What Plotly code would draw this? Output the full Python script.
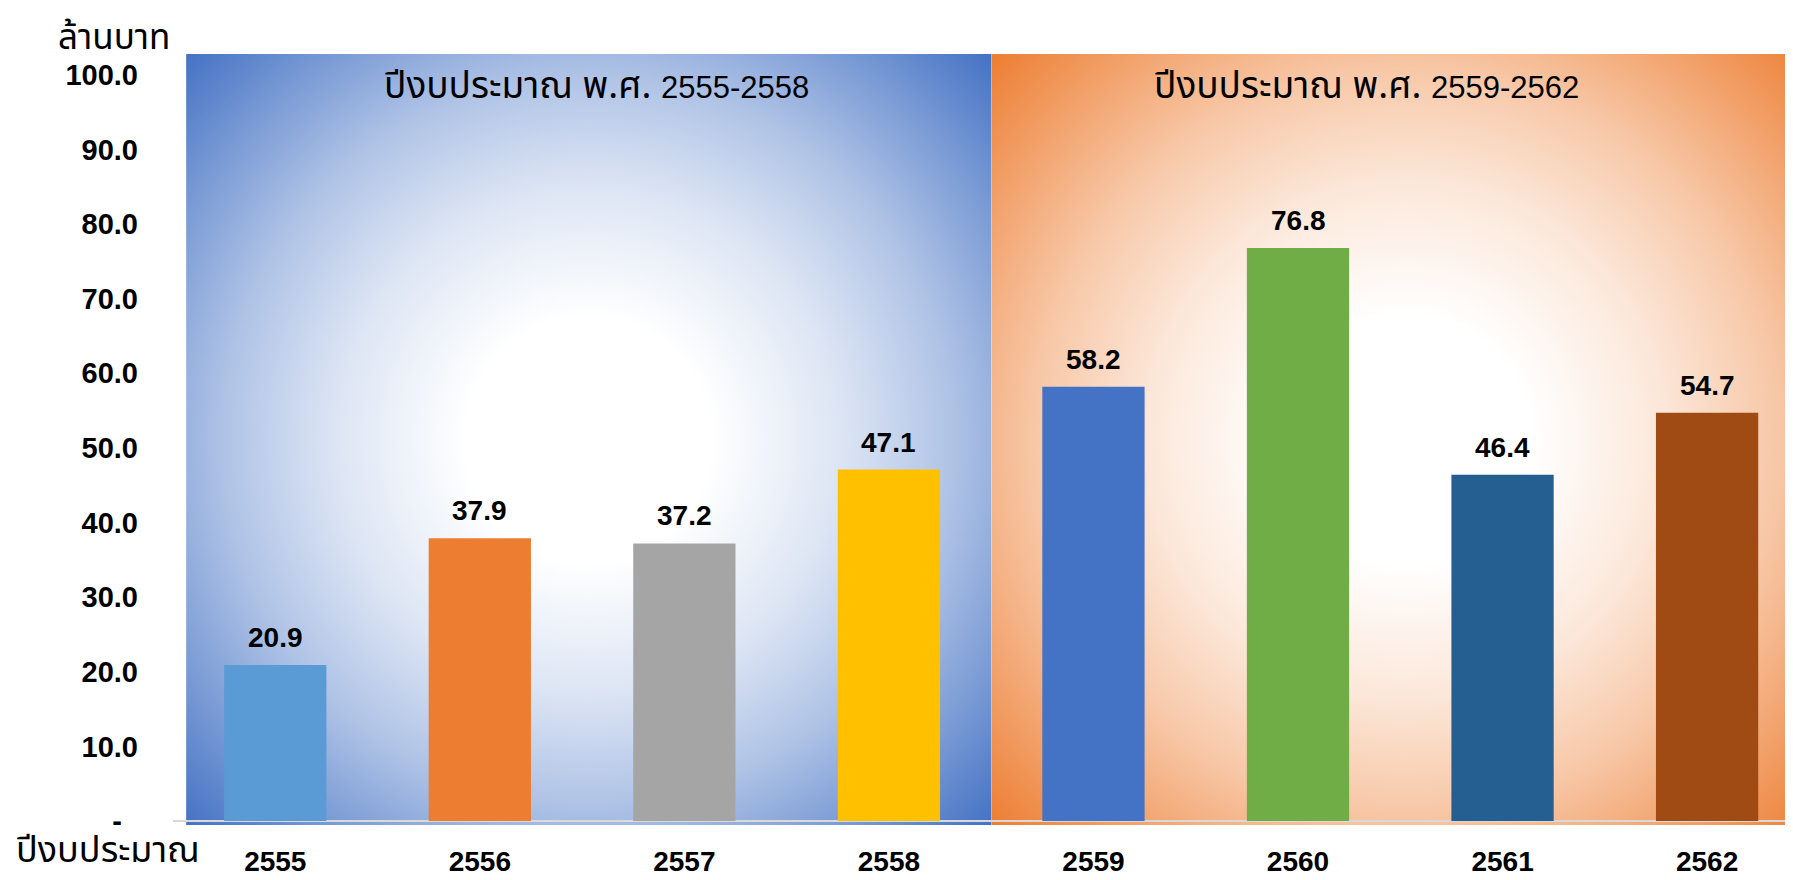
import base64
import plotly.graph_objects as go

# ---------------- data ----------------
years = ["2555", "2556", "2557", "2558", "2559", "2560", "2561", "2562"]
values = [20.9, 37.9, 37.2, 47.1, 58.2, 76.8, 46.4, 54.7]
bar_colors = ["#5B9BD5", "#ED7D31", "#A5A5A5", "#FFC000",
              "#4472C4", "#70AD47", "#255E91", "#A14B14"]
y_tick_vals = [0, 10, 20, 30, 40, 50, 60, 70, 80, 90, 100]
y_tick_text = ["-\u00a0\u00a0", "10.0", "20.0", "30.0", "40.0", "50.0",
               "60.0", "70.0", "80.0", "90.0", "100.0"]
panel_thai = ["ปีงบประมาณ พ.ศ. ", "ปีงบประมาณ พ.ศ. "]
panel_years = ["2555-2558", "2559-2562"]
y_title = "ล้านบาท"
x_title = "ปีงบประมาณ"

W, H = 1793, 880
OFF = 8                      # page body margin in the browser
ML, MR, MT, MB = 165, 8, 46, 63
XR = [-0.5, 7.42]
YR = [-0.54, 102.8]

THAI = "Tahoma, 'Noto Sans Thai', 'Noto Sans', 'DejaVu Sans', sans-serif"
NUM = "Arial, 'Liberation Sans', sans-serif"


def px_x(p):
    return (p - OFF - ML) / (W - ML - MR)


def px_y(p):
    return (H - (p - OFF) - MB) / (H - MT - MB)


def radial_svg(w, h, cx, cy, r, color):
    # white centre fading to accent colour at the far corners
    stops = [(0.0, 0.0), (0.22, 0.0), (0.45, 0.18), (0.65, 0.42), (0.82, 0.7), (1.0, 1.0)]
    stop_xml = "".join(
        f'<stop offset="{o}" stop-color="{color}" stop-opacity="{t}"/>' for o, t in stops
    )
    svg = (
        f'<svg xmlns="http://www.w3.org/2000/svg" width="{w}" height="{h}" '
        f'viewBox="0 0 {w} {h}" preserveAspectRatio="none">'
        f'<defs><radialGradient id="g" gradientUnits="userSpaceOnUse" cx="{cx}" cy="{cy}" r="{r}">'
        f'{stop_xml}</radialGradient></defs>'
        f'<rect x="0" y="0" width="{w}" height="{h}" fill="#ffffff"/>'
        f'<rect x="0" y="0" width="{w}" height="{h}" fill="url(#g)"/></svg>'
    )
    return "data:image/svg+xml;base64," + base64.b64encode(svg.encode()).decode()


fig = go.Figure()
fig.add_trace(go.Bar(
    x=list(range(len(years))), y=values,
    marker=dict(color=bar_colors, line=dict(width=0)),
    width=0.5, hoverinfo="skip",
))

# background panels (gradient images)
blue_src = radial_svg(805, 771, 402, 386, 557, "#4472C4")
orange_src = radial_svg(802, 771, 415, 386, 567, "#ED7D31")
fig.add_layout_image(dict(source=blue_src, xref="x", yref="paper", x=-0.436, y=1,
                          sizex=3.5 + 0.436, sizey=1, xanchor="left", yanchor="top",
                          sizing="stretch", layer="below"))
fig.add_layout_image(dict(source=orange_src, xref="x", yref="paper", x=3.5, y=1,
                          sizex=XR[1] - 3.5, sizey=1, xanchor="left", yanchor="top",
                          sizing="stretch", layer="below"))

# value labels
for i, v in enumerate(values):
    fig.add_annotation(x=i, y=v, text=f"{v:.1f}", showarrow=False,
                       yanchor="bottom", yshift=10,
                       font=dict(family=NUM, size=28, color="#000000", weight="bold"))

# panel titles
for cx, th, yr in zip([596, 1366], panel_thai, panel_years):
    txt = (f'<span style="font-family:{THAI};font-size:37px">{th}</span>'
           f'<span style="font-family:{NUM};font-size:31px">{yr}</span>')
    fig.add_annotation(x=px_x(cx), y=px_y(87), xref="paper", yref="paper", text=txt,
                       showarrow=False, xanchor="center", yanchor="middle",
                       font=dict(family=THAI, size=31, color="#000000"))

# axis titles
fig.add_annotation(x=px_x(114), y=px_y(10), xref="paper", yref="paper", text=y_title,
                   showarrow=False, xanchor="center", yanchor="top",
                   font=dict(family=THAI, size=35, color="#000000"))
fig.add_annotation(x=px_x(14), y=px_y(851), xref="paper", yref="paper", text=x_title,
                   showarrow=False, xanchor="left", yanchor="middle",
                   font=dict(family=THAI, size=36, color="#000000"))

fig.update_layout(
    width=W, height=H,
    margin=dict(l=ML, r=MR, t=MT, b=MB, pad=0, autoexpand=False),
    paper_bgcolor="#ffffff", plot_bgcolor="rgba(0,0,0,0)",
    showlegend=False,
    xaxis=dict(range=XR, tickvals=list(range(len(years))), ticktext=years,
               showgrid=False, zeroline=False, showline=False, automargin=False,
               ticks="outside", ticklen=11, tickcolor="rgba(0,0,0,0)",
               tickfont=dict(family=NUM, size=28, color="#000000", weight="bold"),
               fixedrange=True),
    yaxis=dict(range=YR, tickvals=y_tick_vals, ticktext=y_tick_text,
               showgrid=False, zeroline=True, zerolinecolor="#D9D9D9", zerolinewidth=2,
               showline=False, ticks="", ticklabelstandoff=34, automargin=False,
               tickfont=dict(family=NUM, size=29, color="#000000", weight="bold"),
               fixedrange=True),
)

fig.write_html("out.html")
